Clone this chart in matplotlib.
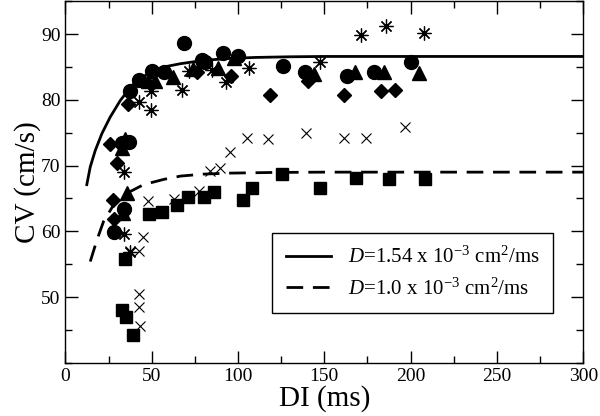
import numpy as np
import matplotlib as mpl
mpl.use('Agg')
import matplotlib.pyplot as plt
from matplotlib.ticker import MultipleLocator

mpl.rcParams['font.family'] = ['Liberation Serif', 'DejaVu Serif']
mpl.rcParams['mathtext.fontset'] = 'custom'
mpl.rcParams['mathtext.rm'] = 'Liberation Serif'
mpl.rcParams['mathtext.it'] = 'Liberation Serif:italic'

## data ##
circle_x = [27.9, 33.7, 32.8, 37.0, 37.2, 42.8, 50.3, 57.2, 69.0, 78.9, 80.8, 91.1, 100.0, 125.8, 139.0, 163.0, 179.0, 200.4]
circle_y = [59.9, 63.4, 73.4, 73.6, 81.4, 83.0, 84.4, 84.3, 88.6, 86.0, 85.7, 87.1, 86.7, 85.1, 84.3, 83.7, 84.3, 85.7]

triangle_x = [32.8, 34.7, 35.4, 33.5, 47.7, 52.0, 62.2, 74.0, 88.4, 97.7, 144.2, 168.0, 184.3, 204.7]
triangle_y = [72.7, 74.1, 65.8, 62.8, 82.9, 82.9, 83.5, 84.7, 84.8, 86.4, 84.0, 84.2, 84.2, 84.1]

diamond_x = [25.8, 27.4, 27.9, 29.7, 36.0, 76.4, 95.8, 118.4, 140.3, 161.7, 182.6, 190.7]
diamond_y = [73.3, 64.7, 61.9, 70.4, 79.3, 84.3, 83.7, 80.8, 82.8, 80.8, 81.4, 81.5]

star_x = [33.7, 33.7, 37.6, 42.4, 49.8, 49.6, 67.7, 71.5, 85.1, 93.3, 106.4, 147.5, 171.3, 185.5, 207.6]
star_y = [69.0, 59.6, 56.8, 79.7, 81.4, 78.4, 81.5, 84.4, 84.5, 82.7, 84.9, 85.8, 89.9, 91.2, 90.1]

cross_x = [37.6, 42.4, 42.4, 42.4, 43.0, 45.2, 47.7, 63.2, 77.3, 83.5, 89.5, 95.2, 105.5, 117.1, 139.4, 161.3, 174.2, 196.5]
cross_y = [57.0, 57.0, 50.4, 48.5, 45.6, 59.2, 64.6, 64.9, 66.2, 69.1, 69.7, 72.1, 74.2, 74.1, 75.0, 74.2, 74.2, 75.9]

square_x = [32.8, 35.3, 39.2, 34.7, 48.3, 56.0, 64.4, 71.2, 80.2, 86.0, 103.1, 108.4, 125.4, 147.5, 168.4, 187.4, 208.5]
square_y = [48.1, 46.9, 44.2, 55.8, 62.6, 62.9, 64.0, 65.2, 65.2, 66.0, 64.8, 66.6, 68.7, 66.6, 68.1, 68.0, 68.0]

solid_x = [12.4, 14.4, 17.3, 21.2, 26.0, 31.8, 38.6, 47.3, 58.9, 66.7, 80, 95, 110, 130, 150, 200, 300]
solid_y = [67.1, 69.8, 72.3, 74.9, 77.4, 79.9, 82.2, 83.9, 85.1, 85.5, 86.0, 86.3, 86.45, 86.55, 86.6, 86.6, 86.6]

dashed_x = [14.4, 18.3, 22.1, 27.9, 35.7, 45.3, 57.0, 66.7, 80, 95, 120, 150, 300]
dashed_y = [55.4, 58.7, 61.5, 64.0, 65.8, 67.1, 67.9, 68.4, 68.7, 68.85, 68.95, 69.0, 69.0]

solid_label = r'$D$=1.54 x 10$^{\mathrm{-3}}$ cm$^{2}$/ms'
dashed_label = r'$D$=1.0 x 10$^{\mathrm{-3}}$ cm$^{2}$/ms'

fig = plt.figure(figsize=(6, 4.16), dpi=100)
ax = fig.add_axes([0.109, 0.128, 0.863, 0.869])

ax.plot(solid_x, solid_y, '-', color='black', lw=2, label=solid_label)
ax.plot(dashed_x, dashed_y, '--', color='black', lw=2, dashes=(6, 3.5), label=dashed_label)

ax.plot(circle_x, circle_y, 'o', color='black', ms=10, ls='none')
ax.plot(triangle_x, triangle_y, '^', color='black', ms=9.5, ls='none')
ax.plot(diamond_x, diamond_y, 'D', color='black', ms=7, ls='none')
ax.plot(square_x, square_y, 's', color='black', ms=8.5, ls='none')
ax.plot(star_x, star_y, marker=(8, 2, 0), color='black', ms=10, mew=0.9, ls='none')
ax.plot(cross_x, cross_y, 'x', color='black', ms=7, mew=0.8, ls='none')

ax.set_xlim(0, 300)
ax.set_ylim(40, 95)
ax.set_xticks([0, 50, 100, 150, 200, 250, 300])
ax.set_yticks([50, 60, 70, 80, 90])
ax.xaxis.set_minor_locator(MultipleLocator(25))
ax.yaxis.set_minor_locator(MultipleLocator(5))
ax.tick_params(which='both', direction='in', top=True, right=True, labelsize=14, width=1)
ax.tick_params(which='major', length=9)
ax.tick_params(which='minor', length=5)
for s in ax.spines.values():
    s.set_linewidth(1)

ax.set_xlabel('DI (ms)', fontsize=21, labelpad=0)
ax.set_ylabel('CV (cm/s)', fontsize=21, labelpad=0)

leg = ax.legend(loc='lower left', bbox_to_anchor=(0.399, 0.137), borderaxespad=0,
                fontsize=15, handlelength=2.2, fancybox=False, framealpha=1,
                edgecolor='black', borderpad=0.65, labelspacing=0.5, handletextpad=0.8)
leg.get_frame().set_linewidth(1)

fig.savefig('out.png', dpi=100)
